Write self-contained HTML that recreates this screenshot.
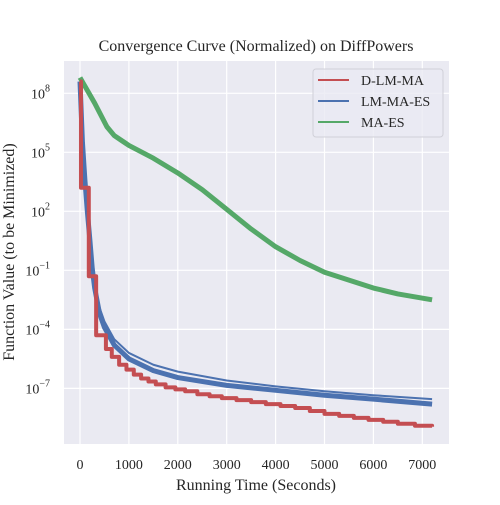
<!DOCTYPE html>
<html><head><meta charset="utf-8"><style>
body{margin:0;background:#fff;font-family:"Liberation Serif",serif}
svg text{font-family:"Liberation Serif",serif}
</style></head><body>
<svg id="c" width="500" height="500" xmlns="http://www.w3.org/2000/svg"></svg>
<script>
const xTicks=[0,1000,2000,3000,4000,5000,6000,7000];
const yTicks=[8,5,2,-1,-4,-7];
const greenX=[0,300,550,700,850,1000,1500,2000,2500,3000,3500,4000,4500,5000,5500,6000,6500,7200];
const greenY=[8.8,7.5,6.3,5.85,5.6,5.35,4.7,3.95,3.1,2.1,1.1,0.2,-0.5,-1.1,-1.5,-1.9,-2.2,-2.5];
const blueX=[0,50,100,150,200,250,300,400,500,700,1000,1500,2000,3000,4000,5000,6000,7200];
const blueY=[8.6,5.5,3.6,2.0,0.6,-0.9,-1.9,-3.2,-3.9,-4.8,-5.5,-6.1,-6.45,-6.85,-7.1,-7.35,-7.55,-7.8];
const blueY2=[8.6,5.5,3.6,2.0,0.6,-0.8,-1.7,-2.9,-3.6,-4.5,-5.2,-5.8,-6.15,-6.6,-6.9,-7.15,-7.35,-7.55];
const redX=[0,20,180,330,530,650,800,950,1100,1250,1400,1550,1750,1950,2150,2400,2650,2900,3200,3500,3800,4100,4400,4700,5000,5300,5600,5900,6200,6500,6850,7200];
const redY=[8.6,3.2,-1.3,-4.3,-5.0,-5.4,-5.8,-6.05,-6.3,-6.5,-6.65,-6.8,-6.95,-7.05,-7.15,-7.3,-7.4,-7.5,-7.6,-7.7,-7.8,-7.9,-8.0,-8.15,-8.3,-8.4,-8.5,-8.6,-8.7,-8.8,-8.9,-8.95];
const NS="http://www.w3.org/2000/svg",svg=document.getElementById('c');
const L=64,R=449,T=61,B=444;
const sx=v=>80+v*(342.3/7000);
const sy=v=>93.3+(8-v)*19.67;
function mk(t,a,p){const e=document.createElementNS(NS,t);for(const k in a)e.setAttribute(k,a[k]);(p||svg).appendChild(e);return e;}
const bg=mk('rect',{x:L,y:T,width:R-L,height:B-T,fill:'#eaeaf2'});


xTicks.forEach(v=>{const g=mk('line',{x1:sx(v),x2:sx(v),y1:T,y2:B,stroke:'#fff','stroke-width':1.2});


const t=mk('text',{x:sx(v),y:469,'text-anchor':'middle','font-size':14,fill:'#262626'});t.textContent=v;

});
yTicks.forEach(v=>{const g=mk('line',{x1:L,x2:R,y1:sy(v),y2:sy(v),stroke:'#fff','stroke-width':1.2});


const t=mk('text',{x:50,y:sy(v)+5,'text-anchor':'end','font-size':14,fill:'#262626'});
t.innerHTML='10<tspan dy="-7" font-size="10">'+(v<0?'\u2212'+(-v):v)+'</tspan>';

});
function line(xs,ys,col,w,name,step){let d='';xs.forEach((x,i)=>{if(i==0)d='M'+sx(x)+','+sy(ys[i]);else if(step)d+='L'+sx(x)+','+sy(ys[i-1])+'L'+sx(x)+','+sy(ys[i]);else d+='L'+sx(x)+','+sy(ys[i]);});
const p=mk('path',{d:d,fill:'none',stroke:col,'stroke-width':w,'stroke-linejoin':'round'});

}
line(greenX,greenY,'#55a868',5,'ma-es-line',false);
line(blueX,blueY2,'#4c72b0',2,'lm-ma-es-line-upper',false);
line(blueX,blueY,'#4c72b0',5,'lm-ma-es-line',false);
line(redX,redY,'#c44e52',4,'d-lm-ma-line',true);
const tt=mk('text',{x:256,y:51,'text-anchor':'middle','font-size':16,fill:'#262626'});tt.textContent='Convergence Curve (Normalized) on DiffPowers';


const xl=mk('text',{x:256,y:490,'text-anchor':'middle','font-size':16,fill:'#262626'});xl.textContent='Running Time (Seconds)';


const yl=mk('text',{x:0,y:0,'text-anchor':'middle','font-size':16,fill:'#262626',transform:'translate(14,252) rotate(-90)'});yl.textContent='Function Value (to be Minimized)';


const lg=mk('rect',{x:313,y:69,width:130,height:68,rx:3,fill:'#eaeaf2',stroke:'#d0d0d8','fill-opacity':0.8});


[['D-LM-MA','#c44e52'],['LM-MA-ES','#4c72b0'],['MA-ES','#55a868']].forEach((e,i)=>{const y=80+i*21;
const l=mk('line',{x1:318,x2:349,y1:y,y2:y,stroke:e[1],'stroke-width':2});


const t=mk('text',{x:361,y:y+5,'font-size':14,fill:'#262626'});t.textContent=e[0];

});
</script>
</body></html>
